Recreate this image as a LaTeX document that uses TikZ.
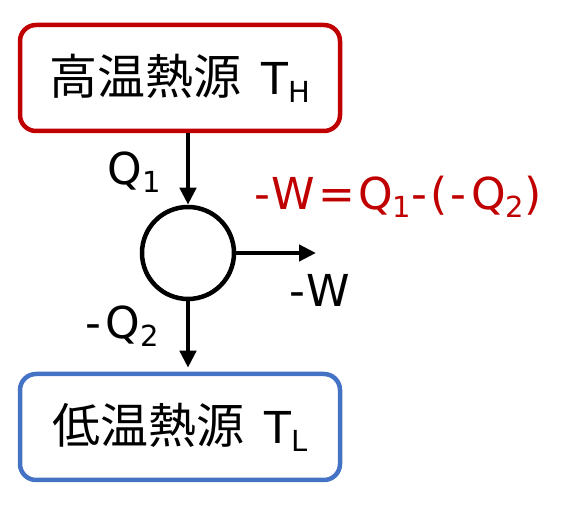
\documentclass[tikz,border=0pt]{standalone}
\usepackage{fontspec}
\setmainfont{DejaVu Sans}[LetterSpace=7]
\newfontfamily\cjk{Noto Sans CJK JP}
\usetikzlibrary{positioning,arrows.meta}
\definecolor{hotred}{RGB}{192,0,0}
\definecolor{coldblue}{RGB}{68,114,196}
\newcommand{\sub}[1]{\raisebox{-8pt}{\fontsize{29}{29}\selectfont #1}}

\begin{document}
\begin{tikzpicture}[x=1pt,y=1pt,line width=4.5pt,font=\fontsize{44}{54}\selectfont]
\tikzstyle{reservoir}=[draw,rounded corners=16pt,minimum width=320pt,minimum height=106pt,inner sep=0pt]
\tikzstyle{engine}=[draw,circle,minimum size=92pt,inner sep=0pt]
\tikzstyle{flow}=[-{Triangle[length=17pt,width=16pt]}]
\tikzstyle{tag}=[inner sep=0pt]
\useasboundingbox (0,0) rectangle (576,506);
\node [reservoir,draw=hotred] (hot) at (180,428) {{\cjk\fontsize{48}{56}\selectfont 高温熱源}\hspace{20pt}T\sub{H}};
\node [engine] (eng) at (188,253) {};
\node [reservoir,draw=coldblue] (cold) at (180,79) {{\cjk\fontsize{48}{56}\selectfont 低温熱源}\hspace{20pt}T\sub{L}};
\coordinate (work) at (316,253);
% heat in, heat out, work out
\draw [flow] (eng |- hot.south) -- (eng.north);
\draw [flow,shorten >=4pt] (eng.south) -- (eng |- cold.north);
\draw [flow] (eng.east) -- (work);
\node [tag] (q1) at (134,334) {Q\sub{1}};
\node [tag] (q2) at (122,180) {-Q\sub{2}};
\node [tag] (w) at (320,216) {-W};
\node [tag,text=hotred] (balance) at (398,309) {-W=Q\sub{1}-(-Q\sub{2})};
\end{tikzpicture}
\end{document}
